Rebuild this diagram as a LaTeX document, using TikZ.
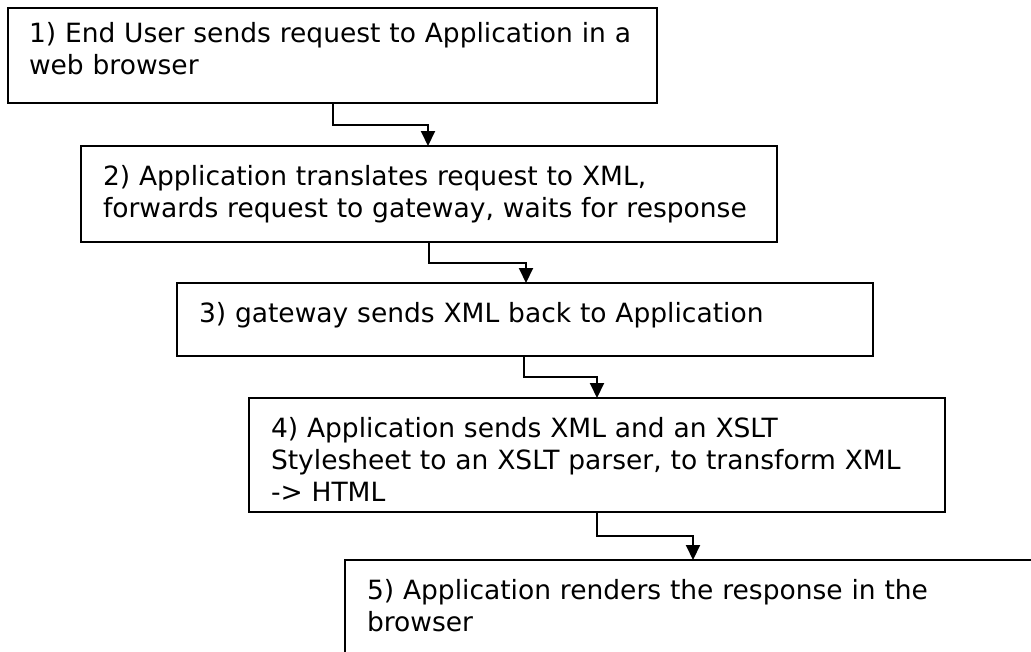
\documentclass[tikz,border=0pt]{standalone}
\usepackage{fontspec}
\setmainfont{DejaVu Sans}
\usetikzlibrary{arrows.meta}

\begin{document}
\begin{tikzpicture}[x=1pt,y=-1pt,
	stepbox/.style={draw,line width=2pt,outer sep=0pt,anchor=north west,
		inner xsep=22pt,inner ysep=0pt,align=left,text width=652pt,
		font=\fontsize{26.5}{32}\selectfont,text height=39pt},
	flow/.style={-{Triangle[length=15pt,width=14pt]},line width=2pt}]
	\clip (0,0) rectangle (1031,651);
	\node[stepbox,text width=607pt,inner xsep=21pt,text height=34pt,text depth=61pt] (s1) at (8,8)
		{1) End User sends request to Application in a\\web browser};
	\node[stepbox,text depth=57pt] (s2) at (81,146)
		{2) Application translates request to XML,\\forwards request to gateway, waits for response};
	\node[stepbox,text depth=34pt] (s3) at (177,283)
		{3) gateway sends XML back to Application};
	\node[stepbox,text depth=75pt] (s4) at (249,398)
		{4) Application sends XML and an XSLT\\Stylesheet to an XSLT parser, to transform XML\\-> HTML};
	\node[stepbox,text depth=81pt] (s5) at (345,560)
		{5) Application renders the response in the\\browser};
	
	\draw[flow] ([xshift=325pt]s1.south west) -- ++(0,22) -| ([xshift=347pt]s2.north west);
	\draw[flow] ([xshift=348pt]s2.south west) -- ++(0,21) -| ([xshift=349pt]s3.north west);
	\draw[flow] ([xshift=347pt]s3.south west) -- ++(0,21) -| ([xshift=348pt]s4.north west);
	\draw[flow] ([xshift=348pt]s4.south west) -- ++(0,24) -| ([xshift=348pt]s5.north west);
	
\end{tikzpicture}
\end{document}
